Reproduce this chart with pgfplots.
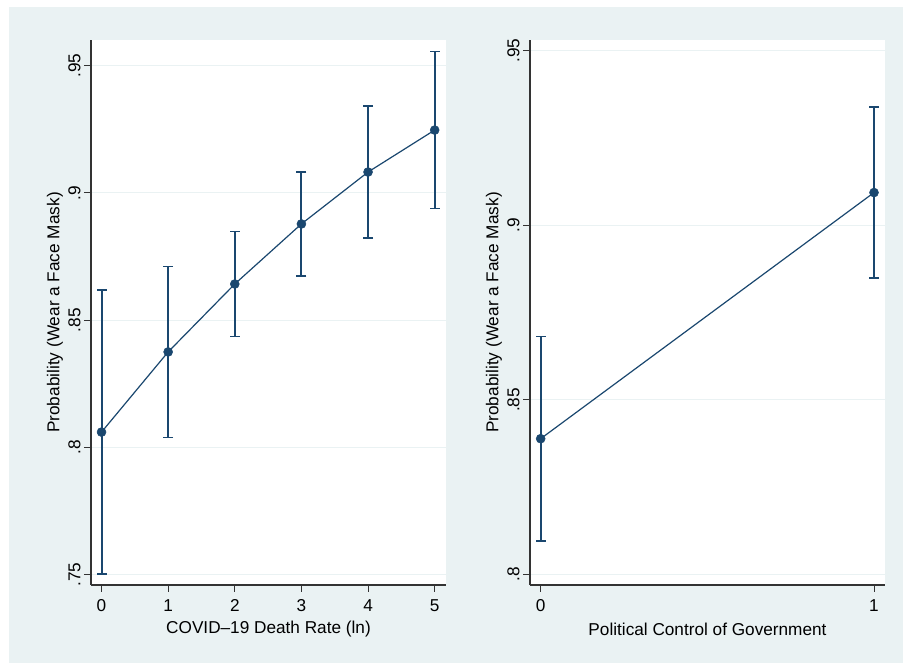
\documentclass[border=0pt]{standalone}
\usepackage{fontspec}
\setmainfont{Liberation Sans}
\usepackage{pgfplots}
\usepackage{pgfplotstable}
\pgfplotsset{compat=1.18}
\definecolor{stbg}{HTML}{EAF2F3}
\definecolor{stnavy}{HTML}{1A476F}
\definecolor{staxis}{HTML}{333333}
\pgfplotstableread{
x y e
0 0.8060 0.0558
1 0.8375 0.0336
2 0.8642 0.0206
3 0.8878 0.0205
4 0.9082 0.0260
5 0.9247 0.0309
}\deathtab
\pgfplotstableread{
x y e
0 0.8389 0.0293
1 0.9094 0.0245
}\poltab
\pgfplotsset{stata/.style={
 scale only axis, width=355pt, height=545pt,
 axis background/.style={fill=white},
 axis x line*=bottom, axis y line*=left,
 axis line style={staxis, line width=1.2pt},
 tick align=outside, major tick length=7pt,
 tick style={staxis, line width=1pt},
 ymajorgrids, grid style={stbg, line width=1pt},
 /pgf/number format/assume math mode=true,
 ticklabel style={font=\fontsize{17.2}{20}\selectfont, text=black},
 label style={font=\fontsize{17.2}{20}\selectfont, text=black},
 yticklabel style={rotate=90, anchor=south},
 xticklabel style={yshift=-4pt},
 ylabel style={at={(axis description cs:-0.1014,0.5)}, anchor=center},
 xlabel style={at={(axis description cs:0.5,-0.0807)}, anchor=center},
},
stbars/.style={draw=none, mark=none, forget plot,
   error bars/.cd, y dir=both, y explicit,
   error bar style={line width=2pt, color=stnavy},
   error mark=none},
stcaps/.style={only marks, mark=-, mark size=5pt, forget plot,
   mark options={solid, draw=stnavy, line width=1.6pt}},
stline/.style={color=stnavy, line width=1.2pt, mark=*,
   mark options={solid, fill=stnavy, draw=stnavy, line width=0.5pt},
   mark size=4.5pt},
}
\begin{document}
\begin{tikzpicture}[x=1pt,y=1pt]
\fill[white] (0,0) rectangle (903,663);
\fill[stbg] (9,0) rectangle (903,656);
\begin{axis}[stata, at={(91pt,78pt)}, anchor=south west,
  xmin=-0.158, xmax=5.17, ymin=0.7459, ymax=0.9601,
  xtick={0,1,2,3,4,5}, xticklabels={0,1,2,3,4,5},
  ytick={0.75,0.8,0.85,0.9,0.95}, yticklabels={.75,.8,.85,.9,.95},
  xlabel={COVID--19 Death Rate (ln)},
  ylabel={Probability (Wear a Face Mask)}]
\addplot[stbars] table[x=x,y=y,y error=e]{\deathtab};
\addplot[stcaps] table[x=x,y expr=\thisrow{y}+\thisrow{e}]{\deathtab};
\addplot[stcaps] table[x=x,y expr=\thisrow{y}-\thisrow{e}]{\deathtab};
\addplot[stline] table[x=x,y=y]{\deathtab};
\end{axis}
\begin{axis}[stata, at={(530pt,78pt)}, anchor=south west,
  xmin=-0.032, xmax=1.033, ymin=0.797, ymax=0.9531,
  xtick={0,1}, xticklabels={0,1},
  ytick={0.8,0.85,0.9,0.95}, yticklabels={.8,.85,.9,.95},
  xlabel={Political Control of Government},
  ylabel={Probability (Wear a Face Mask)}]
\addplot[stbars] table[x=x,y=y,y error=e]{\poltab};
\addplot[stcaps] table[x=x,y expr=\thisrow{y}+\thisrow{e}]{\poltab};
\addplot[stcaps] table[x=x,y expr=\thisrow{y}-\thisrow{e}]{\poltab};
\addplot[stline] table[x=x,y=y]{\poltab};
\end{axis}
\end{tikzpicture}
\end{document}
